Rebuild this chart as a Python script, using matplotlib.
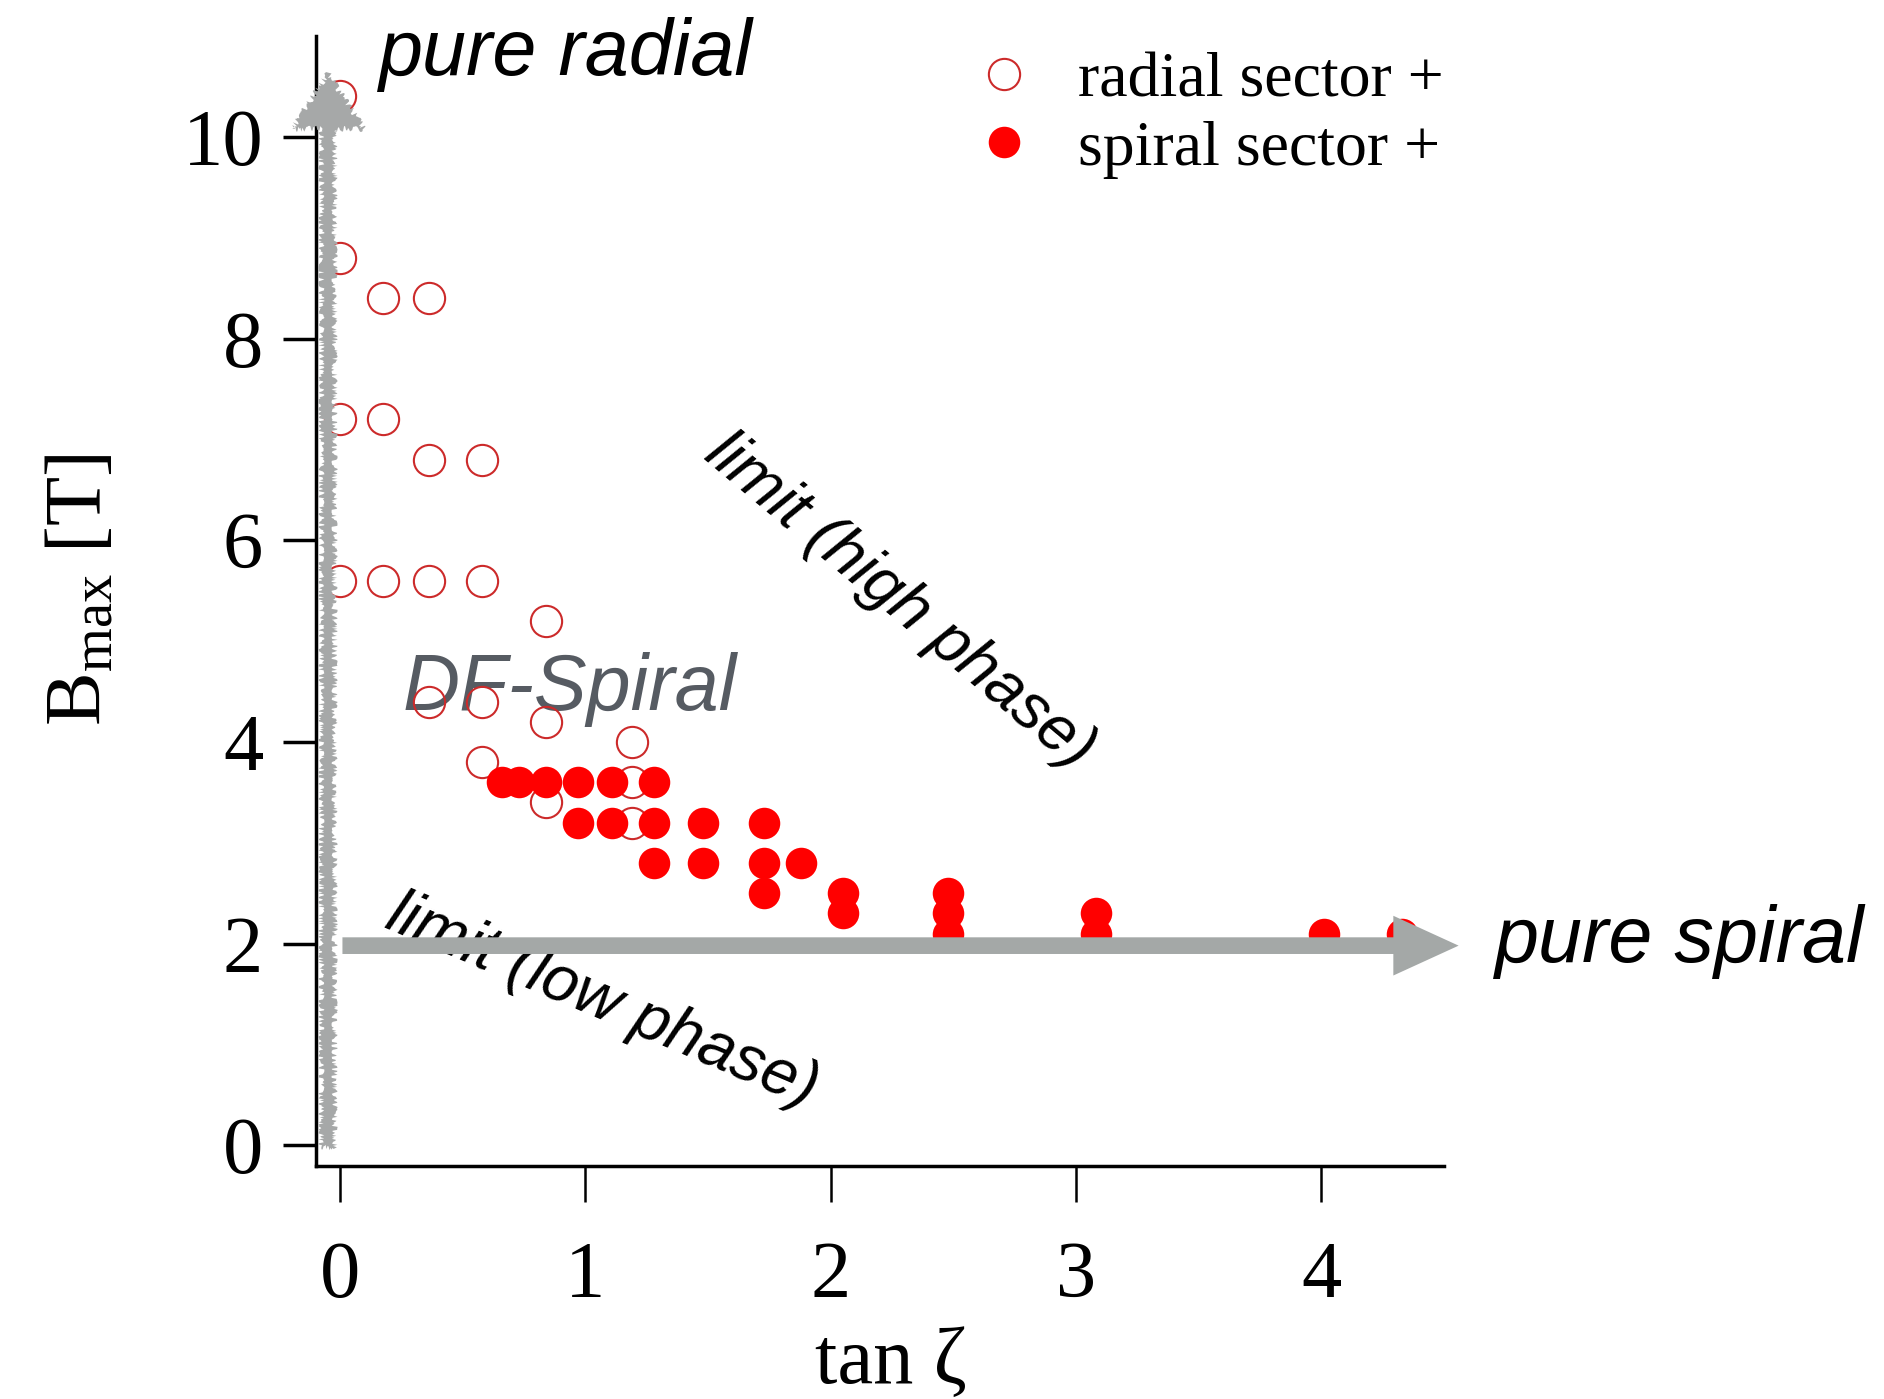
import matplotlib.pyplot as plt
from matplotlib.patches import FancyArrowPatch

plt.rcParams['font.family'] = 'Liberation Serif'
plt.rcParams['mathtext.fontset'] = 'custom'
plt.rcParams['mathtext.rm'] = 'Liberation Serif'
plt.rcParams['mathtext.it'] = 'Liberation Serif:italic'

# radial sector + (open circles)
radial_x = [0.0, 0.0, 0.176, 0.364, 0.0, 0.176, 0.364, 0.577,
            0.0, 0.176, 0.364, 0.577, 0.839, 0.364, 0.577, 0.839,
            1.192, 0.577, 1.192, 0.839, 1.192]
radial_y = [10.4, 8.8, 8.4, 8.4, 7.2, 7.2, 6.8, 6.8,
            5.6, 5.6, 5.6, 5.6, 5.2, 4.4, 4.4, 4.2,
            4.0, 3.8, 3.6, 3.4, 3.2]

# spiral sector + (filled circles)
spiral_x = [0.66, 0.73, 0.84, 0.97, 1.11, 1.28,
            0.97, 1.11, 1.28, 1.48, 1.73,
            1.28, 1.48, 1.73, 1.88,
            1.73, 2.05, 2.05,
            2.48, 2.48, 2.48, 3.08, 3.08, 4.01, 4.33]
spiral_y = [3.6, 3.6, 3.6, 3.6, 3.6, 3.6,
            3.2, 3.2, 3.2, 3.2, 3.2,
            2.8, 2.8, 2.8, 2.8,
            2.5, 2.5, 2.3,
            2.5, 2.3, 2.1, 2.3, 2.1, 2.1, 2.1]

x_ticks = [0, 1, 2, 3, 4]
y_ticks = [0, 2, 4, 6, 8, 10]

# guide arrows (start, end) in data units
radial_arrow = ((-0.049, -0.02), (-0.049, 10.63))
spiral_arrow = ((0.01, 1.98), (4.56, 1.98))

fig = plt.figure(figsize=(18.84, 13.99), dpi=100)
ax = fig.add_axes([0.1677, 0.1669, 0.5987, 0.8074])

l1, = ax.plot(radial_x, radial_y, 'o', ms=22.5, mfc='none', mec='#cc2a2a',
              mew=1.5, zorder=3)
l2, = ax.plot(spiral_x, spiral_y, 'o', ms=22.7, mfc='#ff0000', mec='none',
              zorder=4)

ax.set_xlim(-0.098, 4.5)
ax.set_ylim(-0.2, 11.0)
ax.set_xticks(x_ticks)
ax.set_yticks(y_ticks)
for s in ['top', 'right']:
    ax.spines[s].set_visible(False)
for s in ['left', 'bottom']:
    ax.spines[s].set_linewidth(2.5)
ax.tick_params(axis='y', length=24, width=2.5, pad=14, labelsize=58)
ax.tick_params(axis='x', length=26, width=1.8, pad=28, labelsize=58)

ax.text(-0.2074, 0.51, r'B$_{\rm max}$ [T]', transform=ax.transAxes,
        rotation=90, ha='center', va='center', fontsize=58)
ax.text(0.51, -0.1755, 'tan ζ', transform=ax.transAxes,
        ha='center', va='center', fontsize=58)

# arrows
va = FancyArrowPatch(*radial_arrow,
                     arrowstyle='simple,head_length=40,head_width=52,tail_width=9.5',
                     mutation_scale=1, color='#a6a8a8', lw=0, zorder=5,
                     clip_on=False, shrinkA=0, shrinkB=0)
va.set_sketch_params(scale=3, length=4, randomness=20)
ax.add_patch(va)
ha_ = FancyArrowPatch(*spiral_arrow,
                      arrowstyle='simple,head_length=47,head_width=43,tail_width=12',
                      mutation_scale=1, color='#a4a8a7', lw=0, zorder=5,
                      clip_on=False, shrinkA=0, shrinkB=0)
ax.add_patch(ha_)

sans = dict(family='Liberation Sans', style='italic')
ax.text(0.157, 10.61, 'pure radial', fontsize=57, va='baseline', **sans)
ax.text(4.71, 1.82, 'pure spiral', fontsize=57, va='baseline',
        clip_on=False, **sans)
ax.text(0.255, 4.32, 'DF-Spiral', fontsize=57, va='baseline',
        color='#565b62', zorder=2, **sans)
ax.text(2.28, 5.39, 'limit (high phase)', fontsize=46, rotation=-40,
        ha='center', va='center', rotation_mode='anchor', **sans)
ax.text(1.07, 1.43, 'limit (low phase)', fontsize=46, rotation=-23,
        ha='center', va='center', rotation_mode='anchor', **sans)

ax.legend([l1, l2], ['radial sector +', 'spiral sector +'],
          loc='upper left', bbox_to_anchor=(0.596, 0.986), frameon=False,
          fontsize=46, handlelength=0.5, handletextpad=0.9,
          labelspacing=0.15, borderpad=0, borderaxespad=0)

fig.savefig('out.png', dpi=100)
